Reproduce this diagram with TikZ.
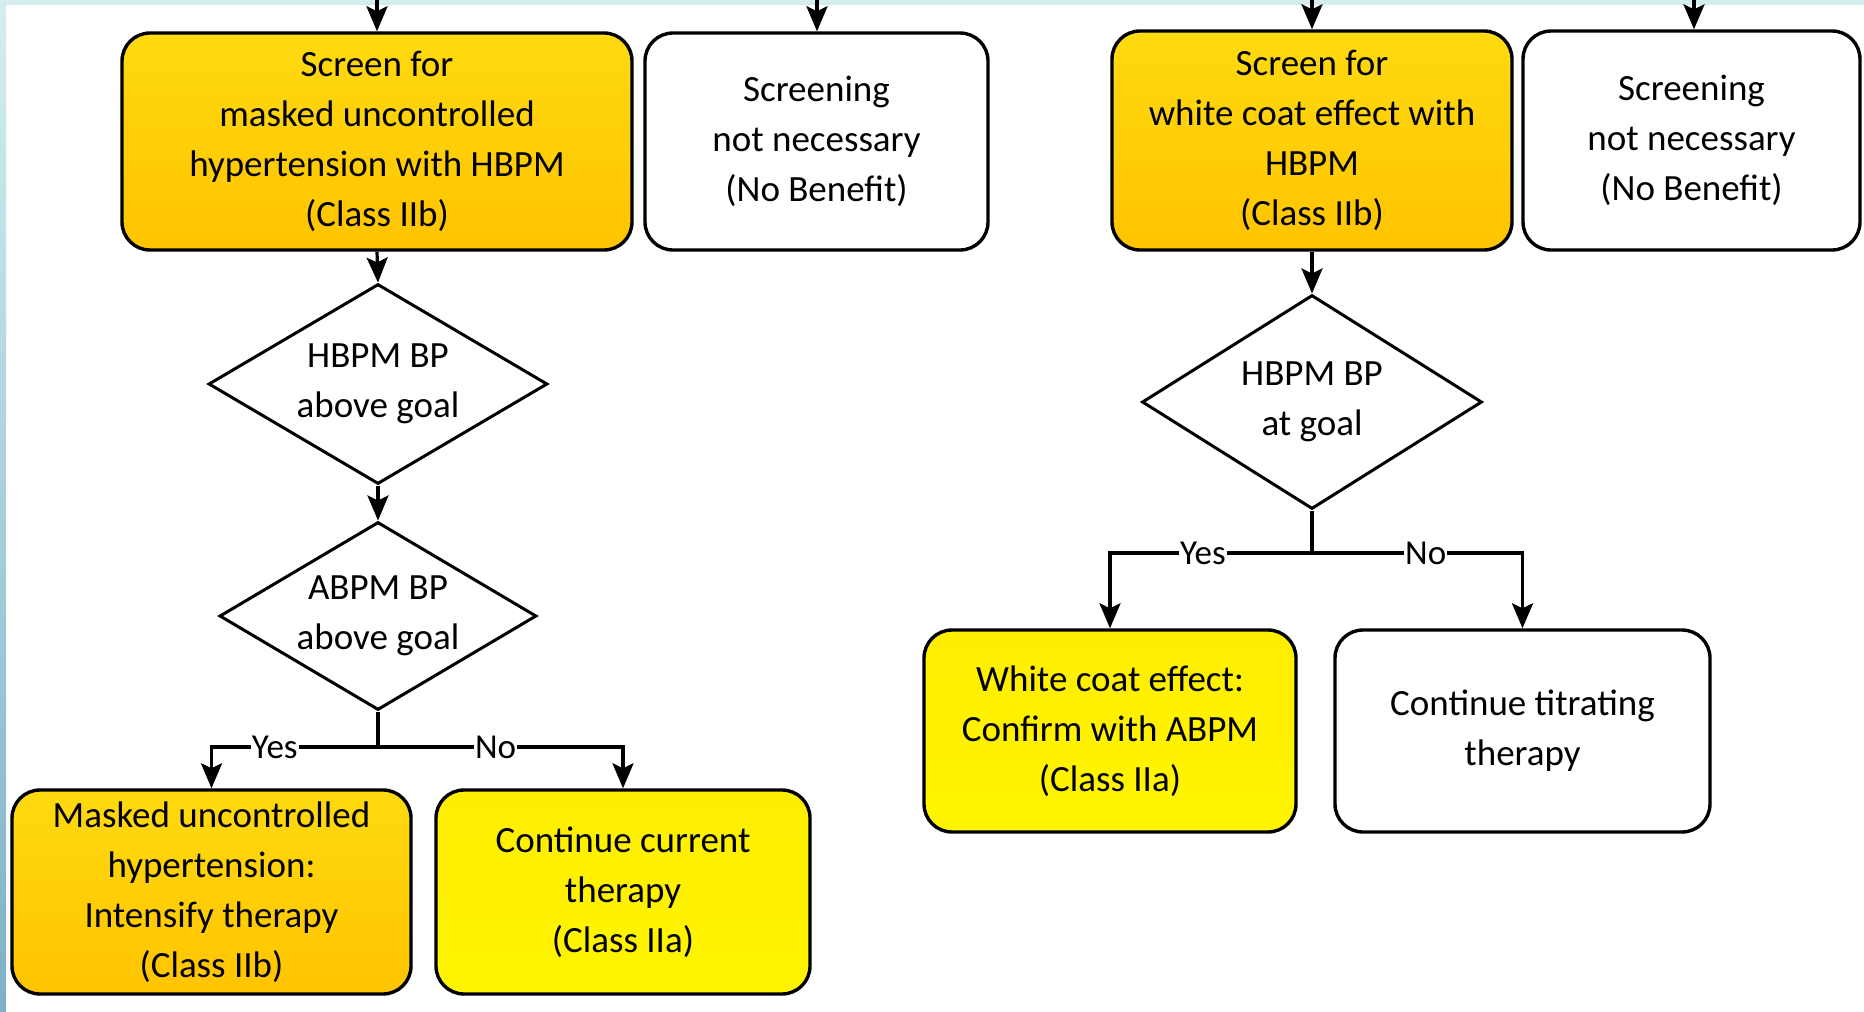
\documentclass[tikz,border=0pt]{standalone}
\usepackage{fontspec}
\setmainfont{Carlito}
\usetikzlibrary{shapes.geometric,arrows.meta}

\definecolor{gold}{HTML}{FFC400}
\definecolor{goldlight}{HTML}{FFDA10}
\definecolor{lemon}{HTML}{FFF500}
\definecolor{stripcyan}{HTML}{D4EEF0}
\definecolor{stripblue}{HTML}{7FB0C8}

\begin{document}
\begin{tikzpicture}[x=1pt,y=-1pt,
    every node/.style={font=\fontsize{37}{50}\selectfont, align=center},
    box/.style={draw, line width=3.4pt, rounded corners=28pt, inner sep=0pt},
    goldbox/.style={box, top color=goldlight, bottom color=gold},
    lemonbox/.style={box, top color=lemon!85!gold, bottom color=lemon},
    plainbox/.style={box, fill=white},
    decision/.style={diamond, draw, line width=3pt, aspect=1.7, inner sep=0pt, fill=white},
    flow/.style={line width=3.2pt, -{Stealth[length=25pt,width=21pt,inset=5pt]}},
    branch/.style={line width=3.2pt},
    tag/.style={fill=white, inner sep=1pt, font=\fontsize{35}{40}\selectfont}
  ]
    \useasboundingbox (0,0) rectangle (1864,1012);
    \fill[white] (0,0) rectangle (1864,1012);
    \shade[top color=stripcyan, bottom color=stripblue] (0,0) rectangle (6,1012);
    \fill[stripcyan] (0,0) rectangle (1864,5);

    % left column
    \node[goldbox, minimum width=510pt, minimum height=217pt] (scrmuh) at (377,141.5)
      {Screen for\\masked uncontrolled\\hypertension with HBPM\\(Class IIb)};
    \node[plainbox, minimum width=343pt, minimum height=217pt] (nonec1) at (816.5,141.5)
      {Screening\\not necessary\\(No Benefit)};
    \node[decision, minimum width=339pt, minimum height=200pt] (hbpm1) at (378,384)
      {HBPM BP\\above goal};
    \node[decision, minimum width=317pt, minimum height=188pt] (abpm1) at (378,616)
      {ABPM BP\\above goal};
    \node[goldbox, minimum width=399pt, minimum height=204pt] (muh) at (211.5,892)
      {Masked uncontrolled\\hypertension:\\Intensify therapy\\(Class IIb)};
    \node[lemonbox, minimum width=374pt, minimum height=204pt] (cont) at (623,892)
      {Continue current\\therapy\\(Class IIa)};

    % right column
    \node[goldbox, minimum width=400pt, minimum height=219pt] (scrwce) at (1312,140.5)
      {Screen for\\white coat effect with\\HBPM\\(Class IIb)};
    \node[plainbox, minimum width=337pt, minimum height=219pt] (nonec2) at (1691.5,140.5)
      {Screening\\not necessary\\(No Benefit)};
    \node[decision, minimum width=340pt, minimum height=214pt] (hbpm2) at (1312,402)
      {HBPM BP\\at goal};
    \node[lemonbox, minimum width=372pt, minimum height=202pt] (wce) at (1110,731)
      {White coat effect:\\Confirm with ABPM\\(Class IIa)};
    \node[plainbox, minimum width=375pt, minimum height=202pt] (titr) at (1522.5,731)
      {Continue titrating\\therapy};

    % incoming arrows from above
    \coordinate (in1) at (377,0);
    \coordinate (in2) at (817,0);
    \coordinate (in3) at (1312,0);
    \coordinate (in4) at (1694,0);
    \draw[flow] (in1) -- (scrmuh.north);
    \draw[flow] (in2) -- (nonec1.north -| in2);
    \draw[flow] (in3) -- (scrwce.north);
    \draw[flow] (in4) -- (nonec2.north -| in4);

    \draw[flow] (scrmuh.south) -- (hbpm1.north);
    \draw[flow] (hbpm1.south) -- (abpm1.north);
    \draw[flow] (scrwce.south) -- (hbpm2.north);

    \coordinate (split1) at (378,747);
    \coordinate (split2) at (1312,553);
    \draw[branch] (abpm1.south) -- (split1);
    \draw[flow] (split1) -| node[tag, pos=0.31] {Yes} (muh.north);
    \draw[flow] (split1) -| node[tag, pos=0.24] {No} (cont.north);
    \draw[branch] (hbpm2.south) -- (split2);
    \draw[flow] (split2) -| node[tag, pos=0.27] {Yes} (wce.north);
    \draw[flow] (split2) -| node[tag, pos=0.27] {No} (titr.north);
\end{tikzpicture}
\end{document}
